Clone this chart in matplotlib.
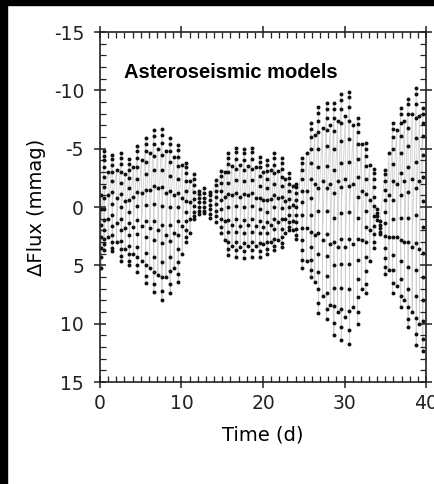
import matplotlib.pyplot as plt
from matplotlib.ticker import MultipleLocator
from matplotlib.patches import Rectangle

plt.rcParams['axes.unicode_minus'] = False

# Light curve, grouped by the vertical columns of samples
col_t = [0.15, 0.5, 1.0, 1.5, 2.05, 2.6, 3.1, 3.6, 4.1, 4.6, 5.1, 5.6, 6.1, 6.6,
         7.1, 7.6, 8.1, 8.6, 9.1, 9.6, 10.1, 10.6, 11.05, 11.5, 12.2, 12.8, 13.5,
         14.2, 14.9, 15.3, 15.7, 16.2, 16.7, 17.2, 17.7, 18.15, 18.6, 19.1, 19.6,
         20.05, 20.5, 20.95, 21.4, 21.85, 22.3, 22.75, 23.2, 23.65, 24.1, 24.8,
         25.35, 25.9, 26.35, 26.8, 27.3, 27.8, 28.25, 28.7, 29.15, 29.6, 30.1,
         30.6, 31.1, 31.6, 32.1, 32.6, 33.1, 33.6, 34.0, 34.3, 35.0, 35.45, 35.9,
         36.4, 36.9, 37.35, 37.8, 38.3, 38.8, 39.2, 39.6]

col_flux = [
    [-1.0, 0.2, 1.5, 2.6, 3.5, 4.3, 5.2],
    [-4.8, -4.4, -4.0, -3.4, -2.6, -1.7, -0.8, 0.2, 1.1, 2.0, 2.7, 3.2, 3.7],
    [-3.0, -1.0, 1.0, 2.6],
    [-4.5, -4.1, -3.6, -3.0, -2.2, -1.3, -0.3, 0.7, 1.6, 2.4, 3.0, 3.5, 3.8],
    [-3.2, -0.8, 1.4, 3.0],
    [-4.6, -4.2, -3.7, -3.0, -2.1, -1.1, 0.0, 1.0, 2.0, 2.9, 3.6, 4.2, 4.6],
    [-2.8, -0.5, 1.8, 3.6],
    [-4.1, -3.7, -3.2, -2.5, -1.6, -0.6, 0.4, 1.4, 2.4, 3.3, 4.0, 4.6, 5.0],
    [-3.4, -0.9, 1.7, 4.0],
    [-5.2, -4.8, -4.2, -3.4, -2.4, -1.3, -0.1, 1.1, 2.3, 3.4, 4.3, 5.0, 5.6],
    [-4.0, -1.2, 1.6, 4.6],
    [-5.9, -5.4, -4.8, -3.9, -2.8, -1.5, -0.2, 1.2, 2.6, 3.9, 5.0, 5.9, 6.5],
    [-4.6, -1.5, 1.8, 5.2],
    [-6.6, -6.1, -5.4, -4.4, -3.2, -1.8, -0.3, 1.2, 2.8, 4.3, 5.6, 6.6, 7.3],
    [-5.0, -1.6, 2.0, 5.8],
    [-6.7, -6.2, -5.5, -4.5, -3.2, -1.7, -0.1, 1.5, 3.1, 4.7, 6.0, 7.2, 8.0],
    [-4.8, -1.2, 2.4, 6.0],
    [-5.9, -5.4, -4.8, -3.9, -2.7, -1.4, 0.0, 1.5, 2.9, 4.3, 5.5, 6.6, 7.4],
    [-4.3, -1.0, 2.2, 5.2],
    [-5.3, -4.9, -4.3, -3.5, -2.4, -1.2, 0.0, 1.2, 2.4, 3.6, 4.7, 5.7, 6.4],
    [-3.6, -0.8, 1.6, 4.0],
    [-3.8, -3.4, -2.9, -2.2, -1.4, -0.5, 0.4, 1.2, 2.0, 2.6, 3.0],
    [-2.2, -0.4, 1.0, 2.2],
    [-2.8, -2.4, -1.9, -1.3, -0.7, -0.1, 0.4, 0.8, 1.0],
    [-1.4, -1.1, -0.8, -0.4, 0.0, 0.3, 0.6],
    [-1.6, -1.2, -0.8, -0.4, 0.0, 0.3, 0.5],
    [-1.3, -1.0, -0.6, -0.2, 0.2, 0.6, 0.9],
    [-2.3, -1.9, -1.4, -0.9, -0.3, 0.3, 0.8, 1.3],
    [-3.1, -2.7, -2.1, -1.4, -0.6, 0.2, 1.0, 1.7, 2.2],
    [-3.0, -0.9, 1.2, 2.8],
    [-4.6, -4.2, -3.7, -3.0, -2.1, -1.1, 0.0, 1.1, 2.1, 3.0, 3.6, 4.1],
    [-3.5, -1.0, 1.5, 3.3],
    [-5.1, -4.7, -4.1, -3.3, -2.3, -1.2, -0.1, 1.0, 2.1, 3.0, 3.7, 4.3],
    [-3.6, -0.9, 1.6, 3.4],
    [-5.0, -4.6, -4.0, -3.2, -2.2, -1.1, 0.0, 1.1, 2.2, 3.1, 3.8, 4.4],
    [-3.5, -1.0, 1.5, 3.3],
    [-5.1, -4.7, -4.1, -3.3, -2.3, -1.2, -0.1, 1.0, 2.1, 3.0, 3.7, 4.3],
    [-3.4, -0.8, 1.6, 3.3],
    [-4.3, -3.9, -3.4, -2.7, -1.8, -0.8, 0.2, 1.2, 2.2, 3.1, 3.8, 4.3],
    [-3.0, -0.6, 1.7, 3.2],
    [-4.0, -3.6, -3.1, -2.4, -1.6, -0.6, 0.4, 1.3, 2.2, 3.0, 3.6, 4.0],
    [-3.2, -0.7, 1.5, 3.0],
    [-4.6, -4.2, -3.6, -2.9, -2.0, -1.0, 0.0, 1.0, 1.9, 2.7, 3.3, 3.7],
    [-3.1, -0.8, 1.3, 2.8],
    [-4.2, -3.8, -3.3, -2.6, -1.8, -0.9, 0.1, 1.0, 1.9, 2.6, 3.1, 3.4],
    [-2.4, -0.5, 1.0, 2.2],
    [-2.9, -2.5, -2.0, -1.4, -0.7, 0.0, 0.7, 1.3, 1.7, 2.0],
    [-1.8, -0.2, 1.2, 2.0],
    [-2.0, -1.7, -1.2, -0.6, 0.0, 0.7, 1.3, 1.9, 2.4, 2.7],
    [-4.2, -3.8, -3.2, -2.4, -1.4, -0.4, 0.7, 1.8, 2.8, 3.7, 4.5, 5.2],
    [-4.6, -1.4, 1.8, 4.6],
    [-7.2, -6.7, -6.0, -5.0, -3.8, -2.4, -0.8, 0.7, 2.1, 3.4, 4.5, 5.4, 6.0],
    [-6.2, -2.0, 2.4, 6.4],
    [-8.6, -8.1, -7.4, -6.4, -5.0, -3.4, -1.6, 0.3, 2.2, 4.0, 5.6, 7.0, 8.2, 9.1],
    [-6.8, -2.2, 2.8, 7.6],
    [-8.9, -8.4, -7.6, -6.6, -5.2, -3.5, -1.6, 0.3, 2.3, 4.2, 5.9, 7.4, 8.7, 9.6],
    [-7.0, -2.0, 3.2, 8.4],
    [-8.9, -8.4, -7.6, -6.5, -5.0, -3.2, -1.2, 0.9, 3.0, 5.0, 6.9, 8.5, 9.9, 11.0],
    [-7.4, -2.2, 3.4, 9.0],
    [-9.7, -9.2, -8.4, -7.2, -5.7, -3.8, -1.7, 0.5, 2.7, 4.9, 6.9, 8.7, 10.3, 11.4],
    [-7.8, -2.4, 3.4, 9.4],
    [-9.9, -9.4, -8.6, -7.4, -5.8, -3.9, -1.8, 0.4, 2.7, 4.9, 7.0, 8.9, 10.5, 11.7],
    [-7.0, -2.0, 3.2, 8.6],
    [-7.6, -7.1, -6.4, -5.4, -4.1, -2.6, -0.9, 0.9, 2.7, 4.5, 6.2, 7.7, 9.0, 10.0],
    [-5.4, -1.4, 2.8, 7.0],
    [-5.5, -5.0, -4.4, -3.5, -2.4, -1.1, 0.3, 1.7, 3.0, 4.3, 5.5, 6.6, 7.4],
    [-3.6, -0.6, 2.0, 4.6],
    [-3.3, -2.9, -2.4, -1.7, -0.9, -0.1, 0.8, 1.6, 2.3, 3.0, 3.5],
    [0.2, 0.5, 0.8, 1.1],
    [1.2, 1.5, 1.8, 2.1, 2.3],
    [-3.2, -2.8, -2.2, -1.5, -0.6, 0.4, 1.4, 2.5, 3.5, 4.4, 5.1, 5.7],
    [-4.6, -1.0, 2.6, 5.4],
    [-7.2, -6.7, -6.0, -5.0, -3.7, -2.2, -0.6, 1.0, 2.6, 4.1, 5.4, 6.5, 7.4],
    [-6.6, -2.0, 2.6, 6.8],
    [-8.5, -8.0, -7.2, -6.1, -4.6, -2.9, -1.0, 0.9, 2.8, 4.6, 6.2, 7.6, 8.6],
    [-7.4, -2.2, 3.0, 8.0],
    [-9.3, -8.8, -8.0, -6.8, -5.2, -3.4, -1.3, 0.9, 3.0, 5.1, 7.0, 8.6, 9.6, 10.3],
    [-8.0, -2.4, 3.4, 9.0],
    [-10.2, -9.7, -8.8, -7.6, -5.9, -3.9, -1.6, 0.7, 3.1, 5.4, 7.6, 9.5, 10.9, 11.8],
    [-7.8, -2.2, 3.6, 10.0],
    [-8.5, -8.0, -7.2, -6.1, -4.5, -2.6, -0.5, 1.7, 3.9, 6.0, 8.0, 9.8, 11.3, 12.3],
]

x_ticks = [0, 10, 20, 30, 40]
y_ticks = [-15, -10, -5, 0, 5, 10, 15]

# flatten; inside a column go top/bottom alternately like the fast oscillation
t_all, f_all = [], []
for t0, vals in zip(col_t, col_flux):
    v = sorted(vals)
    lo, hi = 0, len(v) - 1
    while lo <= hi:
        t_all.append(t0)
        f_all.append(v[lo])
        if lo != hi:
            t_all.append(t0)
            f_all.append(v[hi])
        lo += 1
        hi -= 1

fig = plt.figure(figsize=(4.34, 4.84), dpi=100)
ax = fig.add_axes([0.2304, 0.2107, 0.7512, 0.7231])

ax.plot(t_all, f_all, color="#d0d0d0", lw=0.6, zorder=1)
ax.scatter(t_all, f_all, s=8, color="#111111", lw=0, zorder=2)

ax.set_xlim(0, 40)
ax.set_ylim(15, -15)
ax.set_xticks(x_ticks)
ax.set_yticks(y_ticks)
ax.xaxis.set_minor_locator(MultipleLocator(1))
ax.yaxis.set_minor_locator(MultipleLocator(1))
ax.tick_params(which="major", direction="inout", length=9, width=1.1,
               top=True, right=True, labelsize=13.5, colors="#222222")
ax.tick_params(which="minor", direction="in", length=4, width=0.9,
               top=True, right=True, colors="#222222")
ax.tick_params(axis="x", which="major", pad=4)
ax.tick_params(axis="y", which="major", pad=7)
for s in ax.spines.values():
    s.set_linewidth(1.2)
    s.set_color("#222222")

ax.set_xlabel("Time (d)", fontsize=14)
ax.set_ylabel("ΔFlux (mmag)", fontsize=14)
ax.xaxis.set_label_coords(0.5, -0.125)
ax.yaxis.set_label_coords(-0.165, 0.5)

ax.text(0.075, 0.87, "Asteroseismic models", transform=ax.transAxes,
        fontsize=14.5, family=["Liberation Sans", "DejaVu Sans"],
        fontweight="bold", va="baseline", color="black")

# black frame around the cropped figure
fig.add_artist(Rectangle((0, 0), 7 / 434, 1, transform=fig.transFigure,
                         color="black", zorder=10))
fig.add_artist(Rectangle((0, 1 - 5 / 484), 1, 5 / 484, transform=fig.transFigure,
                         color="black", zorder=10))

fig.savefig("out.png", dpi=100)
